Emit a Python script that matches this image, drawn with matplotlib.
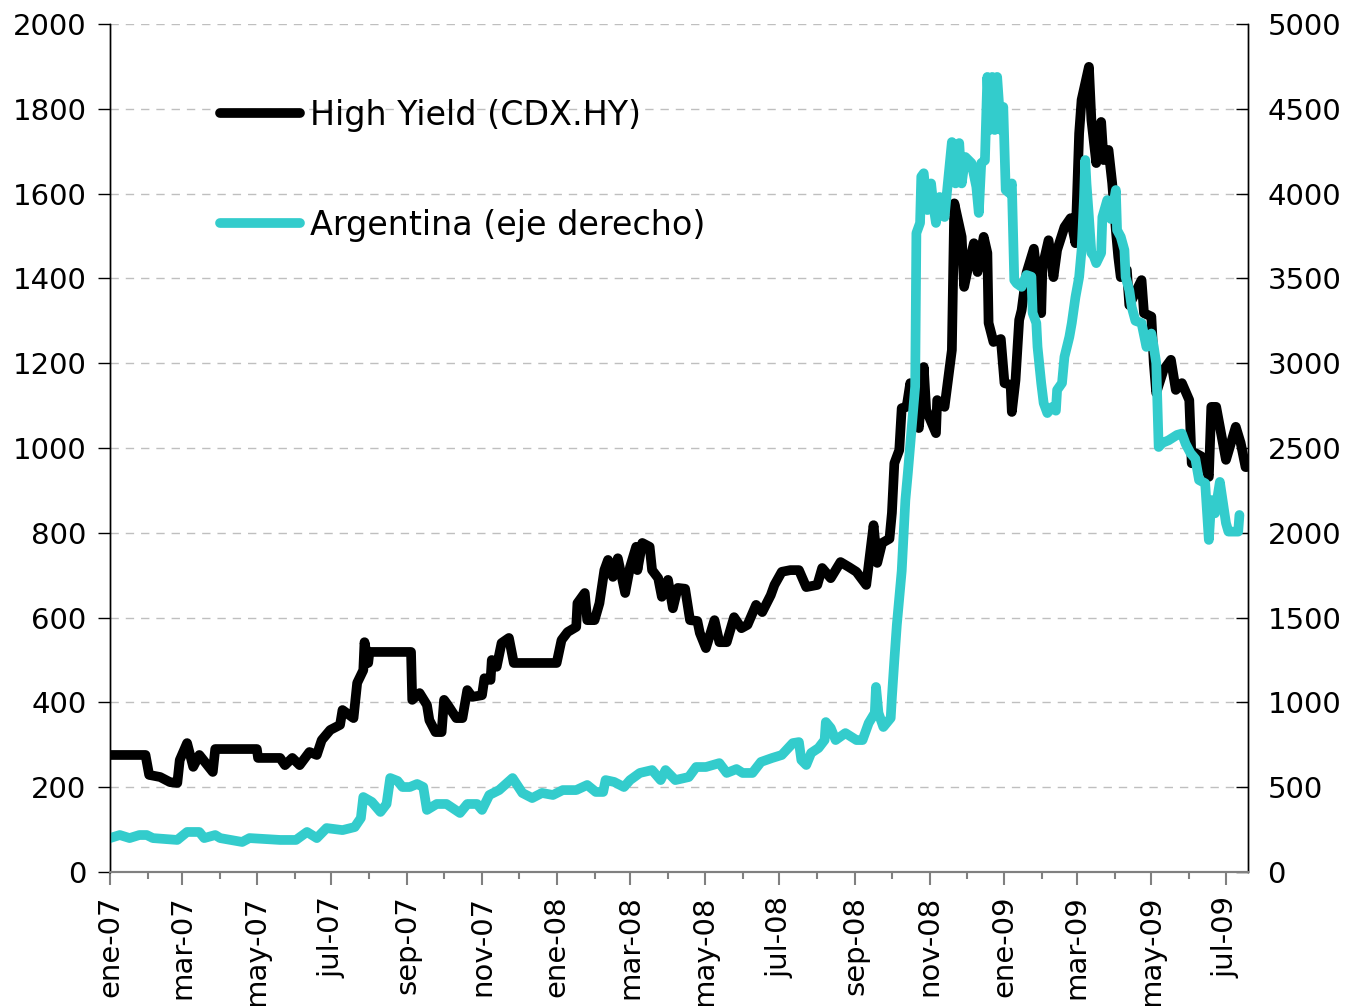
import matplotlib
matplotlib.use("Agg")
import matplotlib.pyplot as plt
import matplotlib.dates as mdates
import pandas as pd

# High Yield (CDX.HY), left axis
hy_dates = [
    "2007-01-01", "2007-01-30", "2007-02-02", "2007-02-11", "2007-02-19", "2007-02-25",
    "2007-02-27", "2007-03-05", "2007-03-10", "2007-03-15", "2007-03-26", "2007-03-28",
    "2007-05-01", "2007-05-02", "2007-05-20", "2007-05-24", "2007-05-30", "2007-06-05",
    "2007-06-13", "2007-06-19", "2007-06-23", "2007-06-30", "2007-07-08", "2007-07-10",
    "2007-07-19", "2007-07-22", "2007-07-27", "2007-07-28", "2007-07-31", "2007-08-01",
    "2007-09-04", "2007-09-05", "2007-09-11", "2007-09-17", "2007-09-19", "2007-09-24",
    "2007-09-29", "2007-10-01", "2007-10-04", "2007-10-11", "2007-10-16", "2007-10-20",
    "2007-10-24", "2007-11-01", "2007-11-03", "2007-11-08", "2007-11-09", "2007-11-13",
    "2007-11-17", "2007-11-23", "2007-11-27", "2008-01-01", "2008-01-05", "2008-01-10",
    "2008-01-17", "2008-01-18", "2008-01-24", "2008-01-26", "2008-02-01", "2008-02-05",
    "2008-02-09", "2008-02-12", "2008-02-16", "2008-02-20", "2008-02-26", "2008-03-01",
    "2008-03-06", "2008-03-07", "2008-03-11", "2008-03-17", "2008-03-19", "2008-03-24",
    "2008-03-27", "2008-04-01", "2008-04-05", "2008-04-09", "2008-04-15", "2008-04-19",
    "2008-04-25", "2008-04-27", "2008-05-02", "2008-05-09", "2008-05-13", "2008-05-19",
    "2008-05-25", "2008-05-31", "2008-06-05", "2008-06-12", "2008-06-17", "2008-06-24",
    "2008-06-27", "2008-07-03", "2008-07-10", "2008-07-17", "2008-07-23", "2008-08-01",
    "2008-08-05", "2008-08-12", "2008-08-20", "2008-08-27", "2008-09-02", "2008-09-10",
    "2008-09-16", "2008-09-19", "2008-09-23", "2008-09-29", "2008-10-01", "2008-10-03",
    "2008-10-07", "2008-10-09", "2008-10-13", "2008-10-16", "2008-10-18", "2008-10-23",
    "2008-10-27", "2008-10-29", "2008-11-06", "2008-11-07", "2008-11-13", "2008-11-19",
    "2008-11-21", "2008-11-27", "2008-11-29", "2008-12-03", "2008-12-07", "2008-12-10",
    "2008-12-15", "2008-12-18", "2008-12-19", "2008-12-23", "2008-12-29", "2009-01-01",
    "2009-01-06", "2009-01-07", "2009-01-10", "2009-01-13", "2009-01-15", "2009-01-19",
    "2009-01-25", "2009-01-31", "2009-02-01", "2009-02-06", "2009-02-10", "2009-02-13",
    "2009-02-19", "2009-02-24", "2009-02-28", "2009-03-03", "2009-03-05", "2009-03-11",
    "2009-03-13", "2009-03-17", "2009-03-21", "2009-03-23", "2009-03-27", "2009-03-30",
    "2009-04-02", "2009-04-04", "2009-04-06", "2009-04-11", "2009-04-13", "2009-04-23",
    "2009-04-25", "2009-05-01", "2009-05-03", "2009-05-05", "2009-05-11", "2009-05-17",
    "2009-05-21", "2009-05-26", "2009-06-01", "2009-06-03", "2009-06-06", "2009-06-11",
    "2009-06-17", "2009-06-19", "2009-06-23", "2009-07-01", "2009-07-09", "2009-07-13",
    "2009-07-17", "2009-07-18",
]
hy_values = [
    276, 276, 229, 224, 212, 210,
    264, 304, 248, 276, 236, 290,
    290, 269, 269, 252, 269, 252,
    283, 276, 311, 335, 347, 382,
    363, 446, 476, 542, 493, 519,
    519, 406, 422, 394, 358, 330,
    330, 406, 394, 363, 363, 429,
    413, 417, 457, 453, 500, 484,
    540, 552, 493, 493, 547, 566,
    578, 634, 658, 594, 594, 634,
    712, 736, 696, 740, 658, 719,
    767, 712, 776, 767, 712, 693,
    649, 689, 622, 670, 668, 594,
    592, 564, 528, 594, 542, 542,
    601, 575, 583, 630, 613, 653,
    677, 708, 712, 712, 672, 677,
    717, 693, 731, 719, 708, 677,
    818, 729, 776, 786, 847, 964,
    995, 1094, 1097, 1153, 1097, 1047,
    1191, 1090, 1035, 1113, 1097, 1231,
    1577, 1498, 1380, 1436, 1483, 1415,
    1498, 1460, 1295, 1250, 1257, 1153,
    1149, 1085, 1160, 1302, 1325, 1413,
    1470, 1318, 1427, 1490, 1403, 1467,
    1521, 1542, 1483, 1742, 1821, 1899,
    1774, 1672, 1769, 1679, 1703, 1625,
    1514, 1450, 1403, 1420, 1337, 1396,
    1318, 1310, 1200, 1130, 1184, 1208,
    1137, 1153, 1113, 964, 988, 980,
    932, 1097, 1097, 972, 1050, 1012,
    955, 955,
]

# Argentina, right axis
arg_dates = [
    "2007-01-01", "2007-01-09", "2007-01-17", "2007-01-25", "2007-01-31", "2007-02-05",
    "2007-02-25", "2007-03-05", "2007-03-15", "2007-03-19", "2007-03-28", "2007-04-01",
    "2007-04-19", "2007-04-25", "2007-05-20", "2007-06-02", "2007-06-11", "2007-06-19",
    "2007-06-27", "2007-07-10", "2007-07-20", "2007-07-25", "2007-07-27", "2007-08-03",
    "2007-08-10", "2007-08-15", "2007-08-18", "2007-08-24", "2007-08-28", "2007-09-03",
    "2007-09-09", "2007-09-14", "2007-09-17", "2007-09-25", "2007-10-03", "2007-10-14",
    "2007-10-20", "2007-10-28", "2007-11-01", "2007-11-07", "2007-11-15", "2007-11-26",
    "2007-12-04", "2007-12-12", "2007-12-20", "2007-12-29", "2008-01-06", "2008-01-17",
    "2008-01-26", "2008-02-02", "2008-02-08", "2008-02-10", "2008-02-17", "2008-02-25",
    "2008-03-01", "2008-03-09", "2008-03-19", "2008-03-26", "2008-03-30", "2008-04-07",
    "2008-04-18", "2008-04-24", "2008-05-02", "2008-05-13", "2008-05-19", "2008-05-27",
    "2008-06-01", "2008-06-09", "2008-06-16", "2008-06-25", "2008-07-03", "2008-07-12",
    "2008-07-17", "2008-07-19", "2008-07-23", "2008-07-27", "2008-08-02", "2008-08-07",
    "2008-08-08", "2008-08-12", "2008-08-16", "2008-08-24", "2008-09-02", "2008-09-07",
    "2008-09-12", "2008-09-17", "2008-09-18", "2008-09-20", "2008-09-24", "2008-09-30",
    "2008-10-01", "2008-10-03", "2008-10-05", "2008-10-09", "2008-10-12", "2008-10-14",
    "2008-10-17", "2008-10-20", "2008-10-21", "2008-10-24", "2008-10-25", "2008-10-27",
    "2008-10-30", "2008-11-02", "2008-11-04", "2008-11-06", "2008-11-09", "2008-11-13",
    "2008-11-17", "2008-11-19", "2008-11-22", "2008-11-25", "2008-11-27", "2008-11-30",
    "2008-12-05", "2008-12-09", "2008-12-11", "2008-12-13", "2008-12-16", "2008-12-18",
    "2008-12-20", "2008-12-22", "2008-12-24", "2008-12-26", "2008-12-29", "2008-12-31",
    "2009-01-02", "2009-01-05", "2009-01-07", "2009-01-09", "2009-01-11", "2009-01-15",
    "2009-01-19", "2009-01-23", "2009-01-24", "2009-01-27", "2009-01-28", "2009-01-31",
    "2009-02-02", "2009-02-05", "2009-02-09", "2009-02-12", "2009-02-13", "2009-02-17",
    "2009-02-19", "2009-02-23", "2009-02-25", "2009-02-28", "2009-03-03", "2009-03-05",
    "2009-03-07", "2009-03-08", "2009-03-09", "2009-03-11", "2009-03-13", "2009-03-15",
    "2009-03-17", "2009-03-21", "2009-03-22", "2009-03-26", "2009-03-29", "2009-04-02",
    "2009-04-03", "2009-04-06", "2009-04-09", "2009-04-10", "2009-04-13", "2009-04-15",
    "2009-04-18", "2009-04-23", "2009-04-27", "2009-05-01", "2009-05-03", "2009-05-05",
    "2009-05-07", "2009-05-10", "2009-05-15", "2009-05-22", "2009-05-26", "2009-05-29",
    "2009-06-02", "2009-06-06", "2009-06-09", "2009-06-14", "2009-06-17", "2009-06-19",
    "2009-06-22", "2009-06-26", "2009-07-01", "2009-07-03", "2009-07-11", "2009-07-12",
]
arg_values = [
    200, 218, 200, 218, 218, 200,
    189, 236, 236, 200, 218, 200,
    177, 200, 189, 189, 236, 200,
    259, 247, 265, 318, 442, 413,
    354, 401, 554, 537, 501, 501,
    519, 501, 366, 401, 401, 348,
    401, 401, 366, 454, 483, 554,
    466, 436, 466, 454, 483, 483,
    513, 472, 472, 542, 531, 501,
    542, 584, 601, 542, 601, 542,
    560, 619, 619, 642, 584, 607,
    584, 584, 649, 672, 690, 760,
    766, 660, 631, 702, 731, 778,
    884, 849, 778, 819, 778, 778,
    878, 938, 1091, 938, 855, 908,
    1032, 1250, 1456, 1775, 2193, 2351,
    2606, 2862, 3767, 3827, 4100, 4120,
    3903, 4060, 3923, 3827, 3980, 3862,
    4157, 4304, 4060, 4298, 4060, 4216,
    4180, 4040, 3886, 4180, 4196, 4688,
    4375, 4688, 4375, 4688, 4375, 4511,
    4021, 4003, 4060, 3490, 3470, 3450,
    3520, 3510, 3296, 3237, 3096, 2883,
    2765, 2706, 2742, 2720, 2842, 2883,
    3037, 3155, 3237, 3390, 3508, 3667,
    3980, 4198, 4060, 3862, 3650, 3630,
    3590, 3650, 3862, 3962, 3850, 4021,
    3785, 3745, 3667, 3508, 3430, 3330,
    3250, 3237, 3096, 3175, 3096, 3001,
    2506, 2530, 2545, 2577, 2585, 2525,
    2470, 2436, 2311, 2292, 1958, 2193,
    2115, 2300, 2057, 2007, 2007, 2105,
]

month_names = ["ene", "feb", "mar", "abr", "may", "jun",
               "jul", "ago", "sep", "oct", "nov", "dic"]

hy_x = pd.to_datetime(hy_dates)
arg_x = pd.to_datetime(arg_dates)

plt.rcParams['font.family'] = ['DejaVu Sans']

fig = plt.figure(figsize=(13.55, 10.06), dpi=100)
ax = fig.add_axes([110 / 1355, 1 - 872 / 1006, 1138 / 1355, 848 / 1006])
ax2 = ax.twinx()

line_hy, = ax.plot(hy_x, hy_values, color='black', lw=7.0,
                   solid_joinstyle='round', solid_capstyle='round',
                   label='High Yield (CDX.HY)')
line_arg, = ax2.plot(arg_x, arg_values, color='#33CCCC', lw=7.0,
                     solid_joinstyle='round', solid_capstyle='round',
                     label='Argentina (eje derecho)')

ax.set_ylim(0, 2000)
ax2.set_ylim(0, 5000)
ax.set_yticks(range(0, 2001, 200))
ax2.set_yticks(range(0, 5001, 500))
ax.set_xlim(pd.Timestamp("2007-01-01"), pd.Timestamp("2009-07-19"))

ax.xaxis.set_major_locator(mdates.MonthLocator(bymonth=[1, 3, 5, 7, 9, 11]))
ax.xaxis.set_minor_locator(mdates.MonthLocator())
ax.xaxis.set_major_formatter(plt.FuncFormatter(
    lambda v, p: "%s-%s" % (month_names[mdates.num2date(v).month - 1],
                            mdates.num2date(v).strftime("%y"))))

ax.grid(axis='y', color='#bfbfbf', linestyle=(0, (6, 5)), linewidth=1.0)
ax.set_axisbelow(True)

ax.tick_params(axis='y', which='major', direction='out', length=9, width=1,
               labelsize=21, pad=8)
ax.tick_params(axis='x', which='major', direction='out', length=9, width=1.5,
               color='#808080', labelsize=21, pad=8, labelrotation=90)
ax.tick_params(axis='x', which='minor', direction='out', length=5, width=1.5,
               color='#808080')
ax2.tick_params(axis='y', direction='in', length=9, width=1, labelsize=21, pad=14)

for a in (ax, ax2):
    a.spines['top'].set_visible(False)
    a.spines['bottom'].set_color('#808080')
    a.spines['bottom'].set_linewidth(1.5)
    a.spines['left'].set_linewidth(1)
    a.spines['right'].set_linewidth(1)

ax2.legend([line_hy, line_arg], ['High Yield (CDX.HY)', 'Argentina (eje derecho)'],
           loc='upper left', bbox_to_anchor=(0.097, 0.912), frameon=False,
           fontsize=24, handlelength=2.4, handletextpad=0.3, labelspacing=2.32,
           borderpad=0, borderaxespad=0)

fig.savefig("out.png", dpi=100)
